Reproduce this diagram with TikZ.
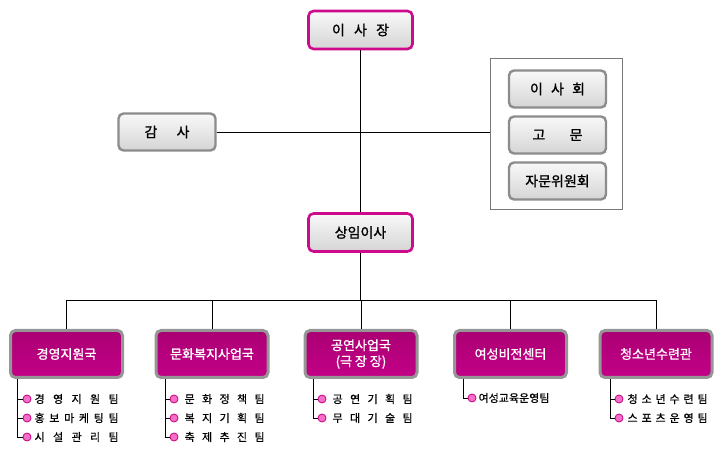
\documentclass[tikz,border=0pt]{standalone}
\usepackage{fontspec}
\setmainfont{Noto Sans CJK KR}
\newfontfamily\krmed[FakeBold=1.2]{Noto Sans CJK KR}
\newfontfamily\krsemi[FakeBold=0.6]{Noto Sans CJK KR}
\definecolor{magb}{RGB}{205,10,140}
\definecolor{grayb}{RGB}{140,140,140}
\definecolor{deptb}{RGB}{150,150,150}
\definecolor{depttop}{RGB}{170,0,115}
\definecolor{deptmid}{RGB}{215,0,150}
\definecolor{deptbot}{RGB}{195,0,135}
\definecolor{bulf}{RGB}{245,110,200}
\definecolor{bulb}{RGB}{200,0,130}
\definecolor{frameb}{RGB}{120,120,120}
\newcommand\spr[2]{\makebox[#1][s]{#2}}
\begin{document}
\begin{tikzpicture}[x=1pt,y=-1pt,
  topbox/.style={draw=magb,line width=2.6pt,rounded corners=5pt,top color=gray!5,bottom color=gray!33,
    minimum width=104pt,minimum height=38pt,inner sep=0pt,font=\fontsize{14}{16}\selectfont\krmed},
  graybox/.style={draw=grayb,line width=2.4pt,rounded corners=5pt,top color=gray!5,bottom color=gray!33,
    minimum width=97pt,minimum height=37pt,inner sep=0pt,font=\fontsize{14}{16}\selectfont\krmed},
  deptbox/.style={draw=deptb,line width=3pt,rounded corners=5pt,top color=depttop,middle color=deptmid,bottom color=deptbot,
    minimum width=112pt,minimum height=47pt,inner sep=0pt,text=white,align=center,
    font=\fontsize{13}{16}\selectfont\krmed},
  framebox/.style={draw=frameb,line width=1.6pt,fill=white,minimum width=132pt,minimum height=151pt,inner sep=0pt},
  bul/.style={circle,draw=bulb,fill=bulf,line width=0.8pt,minimum size=8pt,inner sep=0pt},
  item/.style={anchor=west,inner sep=0pt,font=\fontsize{11}{13}\selectfont\krsemi},
  conn/.style={line width=1.1pt,black},
  thin/.style={line width=0.9pt,black}
]
\useasboundingbox (0,0) rectangle (726,454);

% top part
\node[framebox] (frame) at (556.5,134) {};
\node[topbox] (chair) at (360.5,30) {\spr{57pt}{이\hfill 사\hfill 장}};
\node[graybox] (audit) at (167,132) {\spr{45pt}{감\hfill 사}};
\node[graybox] (board) at (557.5,89) {\spr{55pt}{이\hfill 사\hfill 회}};
\node[graybox] (advis) at (557.5,135) {\spr{50pt}{고\hfill 문}};
\node[graybox] (comm) at (557.5,181) {자문위원회};
\node[topbox] (exec) at (360.5,232.5) {상임이사};

\draw[conn] (chair.south) -- (exec.north);
\draw[thin] (audit.east) -- (audit.east -| frame.west);
\coordinate (bus) at (360.5,300);

% departments
\node[deptbox] (d1) at (66.5,354) {경영지원국};
\node[deptbox] (d2) at (212,354) {문화복지사업국};
\node[deptbox] (d3) at (361,354) {공연사업국\\(극 장 장)};
\node[deptbox] (d4) at (510.5,354) {여성비전센터};
\node[deptbox] (d5) at (656,354) {청소년수련관};

\draw[conn] (exec.south) -- (bus);
\draw[thin] (d1.north |- bus) -- (d5.north |- bus);
\foreach \d in {d1,d2,d3,d4,d5} \draw[thin] (\d.north |- bus) -- (\d.north);

% sub items
\coordinate (t1) at (17,379);
\coordinate (t2) at (165,379);
\coordinate (t3) at (313,379);
\coordinate (t4) at (463,379);
\coordinate (t5) at (610,379);

\node[bul] (b11) at (27,399) {};
\node[bul] (b12) at (27,418) {};
\node[bul] (b13) at (27,437) {};
\node[bul] (b21) at (174,399) {};
\node[bul] (b22) at (174,418) {};
\node[bul] (b23) at (174,437) {};
\node[bul] (b31) at (322,399) {};
\node[bul] (b32) at (322,418) {};
\node[bul] (b41) at (472,398) {};
\node[bul] (b51) at (619,399) {};
\node[bul] (b52) at (619,418) {};

\foreach \t/\b in {t1/b13,t2/b23,t3/b32,t4/b41,t5/b52} \draw[thin] (\t) |- (\b.west);
\foreach \t/\b in {t1/b11,t1/b12,t2/b21,t2/b22,t3/b31,t5/b51} \draw[thin] (\t |- \b) -- (\b.west);

\node[item] (i11) at ([xshift=3pt]b11.east) {\spr{84pt}{경\hfill 영\hfill 지\hfill 원\hfill 팀}};
\node[item] (i12) at ([xshift=3pt]b12.east) {\spr{84pt}{홍\hfill 보\hfill 마\hfill 케\hfill 팅\hfill 팀}};
\node[item] (i13) at ([xshift=3pt]b13.east) {\spr{84pt}{시\hfill 설\hfill 관\hfill 리\hfill 팀}};
\node[item] (i21) at ([xshift=6pt]b21.east) {\spr{80pt}{문\hfill 화\hfill 정\hfill 책\hfill 팀}};
\node[item] (i22) at ([xshift=6pt]b22.east) {\spr{80pt}{복\hfill 지\hfill 기\hfill 획\hfill 팀}};
\node[item] (i23) at ([xshift=6pt]b23.east) {\spr{80pt}{축\hfill 제\hfill 추\hfill 진\hfill 팀}};
\node[item] (i31) at ([xshift=6pt]b31.east) {\spr{80pt}{공\hfill 연\hfill 기\hfill 획\hfill 팀}};
\node[item] (i32) at ([xshift=6pt]b32.east) {\spr{80pt}{무\hfill 대\hfill 기\hfill 술\hfill 팀}};
\node[item] (i41) at ([xshift=2pt]b41.east) {여성교육운영팀};
\node[item] (i51) at ([xshift=4pt]b51.east) {\spr{80pt}{청\hfill 소\hfill 년\hfill 수\hfill 련\hfill 팀}};
\node[item] (i52) at ([xshift=4pt]b52.east) {\spr{80pt}{스\hfill 포\hfill 츠\hfill 운\hfill 영\hfill 팀}};
\end{tikzpicture}
\end{document}
